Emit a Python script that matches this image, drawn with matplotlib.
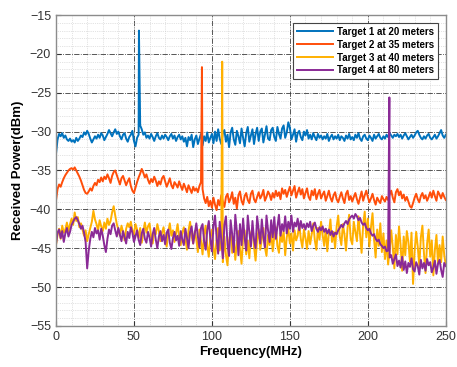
import numpy as np
import matplotlib
matplotlib.use("Agg")
import matplotlib.pyplot as plt
from matplotlib.ticker import MultipleLocator

# frequency grid (MHz), 1 MHz steps
freq = np.arange(0, 251, 1)

labels = ["Target 1 at 20 meters", "Target 2 at 35 meters",
          "Target 3 at 40 meters", "Target 4 at 80 meters"]
colors = ["#0072BD", "#FF4E0A", "#FFB000", "#8A2A96"]

# spike of each target (frequency MHz, power dBm)
peak_freq = [53.2, 93.6, 106.6, 213.8]
peak_power = [-17.0, -21.7, -21.0, -25.6]

t1 = [-32.9, -31.0, -30.3, -30.6, -30.2, -30.8, -30.5, -31.0, -31.2, -30.9,
      -31.3, -31.1, -31.4, -30.8, -31.2, -30.9, -30.5, -30.7, -30.1, -30.4,
      -29.9, -30.3, -30.9, -31.4, -31.0, -30.6, -30.9, -30.4, -30.8, -30.2,
      -30.5, -31.1, -30.7, -30.3, -29.8, -30.2, -30.6, -30.1, -29.7, -30.3,
      -30.0, -30.6, -31.0, -30.4, -30.2, -30.9, -31.3, -30.7, -30.4, -29.9,
      -31.2, -31.9, -30.8, -30.4, -29.2, -29.7, -30.4, -30.1, -30.8, -30.5,
      -30.9, -30.3, -30.7, -31.2, -30.6, -30.2, -30.8, -31.0, -30.5, -30.9,
      -30.4, -30.7, -31.1, -30.6, -30.3, -30.9, -30.5, -31.2, -30.7, -30.4,
      -31.0, -30.6, -31.3, -30.8, -31.9, -30.7, -31.1, -30.4, -32.0, -31.0,
      -30.5, -31.6, -30.9, -30.3, -31.8, -30.6, -31.2, -30.1, -31.4, -30.8,
      -30.3, -31.5, -30.0, -31.2, -29.7, -30.9, -31.6, -30.2, -29.8, -31.3,
      -30.4, -32.0, -30.1, -29.5, -31.0, -31.7, -29.9, -30.6, -31.5, -29.6,
      -30.8, -31.9, -30.2, -29.4, -31.3, -30.5, -29.7, -31.6, -30.3, -29.5,
      -31.2, -30.0, -29.6, -31.4, -30.4, -29.3, -30.9, -31.1, -29.8, -29.5,
      -30.7, -31.2, -29.4, -30.3, -30.9, -29.6, -29.2, -30.8, -30.1, -28.8,
      -29.5, -31.0, -30.4, -29.7, -31.3, -30.2, -29.9, -30.7, -31.1, -30.0,
      -30.5, -29.8, -30.9, -30.4, -31.0, -30.2, -30.7, -31.1, -30.3, -30.8,
      -30.5, -31.0, -30.6, -30.9, -30.3, -31.2, -30.7, -30.4, -31.0, -30.6,
      -30.9, -30.4, -31.1, -30.6, -30.8, -31.2, -30.5, -30.9, -30.3, -31.0,
      -30.7, -31.1, -30.4, -30.8, -30.2, -30.9, -31.2, -30.6, -30.4, -30.9,
      -31.1, -30.5, -30.8, -31.2, -30.4, -30.9, -30.6, -30.3, -30.8, -31.0,
      -30.6, -30.9, -30.4, -30.7, -30.2, -30.5, -30.8, -30.4, -30.6, -30.3,
      -30.7, -30.4, -30.9, -30.5, -30.2, -30.6, -31.0, -30.7, -30.4, -30.8,
      -30.5, -30.1, -29.9, -30.4, -30.8, -31.0, -30.6, -30.9, -30.5, -30.3,
      -30.8, -31.0, -30.7, -30.4, -30.9, -30.6, -30.2, -29.8, -30.5, -30.8,
      -30.4]

t2 = [-38.9, -37.4, -36.8, -37.1, -36.5, -36.0, -35.6, -35.3, -35.0, -34.8,
      -34.7, -34.9, -34.6, -35.0, -35.4, -35.8, -36.3, -36.9, -37.5, -37.9,
      -38.0, -37.7, -37.3, -37.6, -37.0, -36.6, -36.9, -36.2, -36.5, -35.9,
      -36.4, -35.8, -36.1, -35.5, -36.0, -36.6, -35.7, -35.2, -35.0, -35.6,
      -36.2, -36.8, -36.0, -35.7, -36.3, -36.9, -36.4, -36.0, -37.0, -37.6,
      -37.9, -37.2, -36.5, -35.9, -35.4, -34.8, -35.3, -35.9, -35.5, -36.2,
      -36.7, -36.1, -36.5, -35.8, -36.3, -37.0, -36.4, -36.8, -36.0, -35.7,
      -36.4, -37.1, -36.6, -36.0, -36.9, -37.3, -36.5, -36.8, -37.2, -36.4,
      -37.0, -37.5, -36.7, -37.2, -37.8, -36.9, -37.4, -37.9, -37.1, -37.6,
      -37.3, -37.8, -37.0, -36.5, -37.4, -38.6, -39.2, -38.4, -39.6, -38.9,
      -39.8, -38.5, -39.4, -40.1, -38.8, -39.5, -38.2, -39.0, -39.7, -38.4,
      -38.0, -39.1, -38.6, -37.8, -39.3, -38.5, -39.9, -38.2, -37.7, -38.9,
      -39.4, -38.3, -37.9, -38.8, -39.2, -38.0, -37.6, -38.7, -39.1, -38.4,
      -37.8, -38.6, -38.2, -37.5, -38.9, -38.4, -37.7, -38.1, -38.8, -37.9,
      -38.5, -37.6, -38.3, -37.8, -38.7, -37.3, -38.0, -37.5, -38.4, -37.7,
      -37.1, -38.2, -37.6, -37.0, -38.5, -37.8, -37.2, -38.1, -37.4, -38.6,
      -37.9, -37.3, -38.4, -38.8, -37.6, -38.2, -37.4, -38.7, -38.0, -37.5,
      -38.6, -38.1, -37.7, -38.9, -38.3, -37.6, -38.5, -39.0, -38.2, -37.8,
      -38.7, -39.1, -38.4, -37.8, -38.6, -39.2, -38.0, -37.6, -38.8, -38.3,
      -39.0, -38.4, -37.9, -38.7, -39.3, -38.5, -37.7, -38.9, -38.2, -37.6,
      -38.4, -39.1, -38.6, -38.0, -38.8, -39.4, -38.5, -38.9, -39.2, -38.3,
      -38.7, -39.0, -38.4, -38.8, -38.1, -37.6, -38.5, -39.1, -37.8, -37.4,
      -38.2, -37.7, -38.6, -38.1, -38.9, -38.4, -39.0, -39.6, -39.8, -39.2,
      -38.5, -38.0, -38.7, -39.1, -38.3, -37.9, -38.6, -38.2, -38.9, -38.4,
      -37.8, -38.5, -37.6, -38.3, -38.9, -37.7, -38.1, -38.6, -37.9, -38.4,
      -38.8]

t3 = [-44.6, -43.3, -42.5, -43.8, -42.1, -43.0, -42.6, -41.7, -42.8, -41.9,
      -41.2, -42.0, -40.4, -41.5, -41.0, -42.3, -41.8, -42.6, -43.4, -42.7,
      -44.1, -43.2, -42.4, -41.6, -40.2, -41.3, -41.9, -42.7, -41.4, -42.2,
      -42.8, -41.7, -42.5, -41.2, -42.0, -41.5, -40.4, -39.6, -40.8, -41.9,
      -42.6, -43.4, -42.1, -42.9, -44.0, -42.5, -41.8, -42.3, -41.6, -42.7,
      -43.2, -41.9, -42.6, -43.7, -42.4, -44.3, -42.9, -41.7, -43.0, -42.2,
      -41.8, -43.5, -44.4, -42.6, -43.2, -41.9, -42.8, -44.1, -43.0, -42.3,
      -43.9, -44.8, -42.9, -41.8, -43.4, -42.7, -44.2, -43.1, -41.9, -43.6,
      -44.6, -43.0, -42.3, -43.8, -45.2, -42.7, -41.6, -43.5, -44.4, -42.8,
      -43.9, -45.5, -42.6, -44.1, -45.8, -43.2, -42.1, -44.7, -46.1, -43.5,
      -42.6, -44.9, -46.4, -43.8, -42.4, -45.3, -44.0, -46.8, -43.5, -45.9,
      -47.2, -44.1, -42.9, -45.6, -43.7, -46.5, -44.3, -42.8, -45.1, -47.0,
      -43.6, -42.7, -45.8, -44.0, -46.3, -43.1, -42.5, -44.8, -46.6, -43.9,
      -42.6, -45.2, -43.8, -42.4, -44.9, -46.0, -43.3, -44.6, -42.9, -45.4,
      -43.5, -42.3, -44.7, -45.6, -43.0, -44.2, -42.8, -45.9, -43.6, -42.5,
      -44.4, -43.1, -45.3, -42.7, -44.0, -43.4, -41.9, -43.8, -44.9, -42.6,
      -43.7, -45.1, -42.8, -44.5, -43.2, -41.8, -44.0, -45.2, -42.4, -43.9,
      -41.6, -43.3, -44.7, -42.5, -45.4, -43.1, -41.3, -44.2, -42.9, -45.0,
      -42.2, -40.8, -43.5, -44.6, -41.9, -43.2, -45.3, -42.4, -40.7, -43.8,
      -44.5, -41.6, -42.9, -44.1, -40.9, -43.3, -45.6, -42.0, -40.3, -43.6,
      -41.2, -44.8, -42.3, -40.5, -43.9, -46.2, -42.6, -44.7, -41.8, -45.5,
      -43.1, -46.4, -44.0, -47.1, -45.2, -42.7, -44.9, -47.6, -43.3, -45.8,
      -42.2, -44.6, -47.9, -43.5, -45.9, -42.8, -44.2, -46.7, -43.0, -49.6,
      -45.4, -42.9, -44.8, -47.3, -43.6, -42.1, -45.7, -48.2, -44.4, -42.6,
      -46.1, -44.0, -48.5, -45.2, -43.3, -47.0, -44.6, -46.8, -43.5, -45.9,
      -47.2]

t4 = [-44.5, -43.0, -42.6, -43.7, -42.8, -44.2, -43.1, -42.4, -43.5, -42.9,
      -42.0, -41.6, -41.2, -41.0, -41.4, -41.9, -42.5, -42.1, -43.0, -44.2,
      -47.6, -45.3, -43.8, -42.9, -43.6, -42.4, -43.1, -42.7, -43.9, -42.5,
      -43.4, -44.6, -45.5, -43.8, -42.6, -43.2, -42.1, -41.8, -42.7, -43.5,
      -42.4, -43.3, -44.1, -42.8, -43.6, -44.4, -42.9, -43.7, -42.3, -43.0,
      -44.2, -43.5, -42.7, -43.9, -44.6, -43.1, -42.5, -43.8, -44.3, -42.9,
      -43.6, -44.8, -43.2, -42.4, -43.9, -45.0, -43.5, -42.8, -44.1, -43.3,
      -44.5, -43.0, -42.6, -44.3, -45.1, -43.7, -42.9, -44.0, -43.4, -44.7,
      -42.8, -43.9, -44.6, -42.5, -43.7, -45.0, -42.9, -42.2, -44.4, -43.1,
      -41.8, -43.5, -44.9, -42.4, -41.9, -44.1, -45.2, -42.7, -41.5, -43.8,
      -45.4, -42.2, -40.8, -43.6, -45.7, -41.6, -43.9, -46.3, -42.0, -40.9,
      -44.5, -46.0, -41.4, -43.2, -45.5, -40.7, -42.8, -45.9, -41.9, -44.6,
      -41.2, -43.7, -45.3, -40.8, -42.9, -44.8, -41.5, -43.9, -45.0, -40.9,
      -42.6, -44.4, -41.3, -43.5, -44.9, -40.8, -42.7, -44.2, -41.4, -43.6,
      -41.0, -43.8, -42.3, -40.7, -43.4, -41.9, -42.8, -40.9, -43.1, -41.6,
      -42.5, -40.8, -42.9, -41.7, -42.2, -41.2, -42.7, -41.5, -42.4, -41.9,
      -42.6, -41.8, -42.3, -41.6, -42.8, -42.1, -41.7, -42.5, -42.9, -42.3,
      -42.7, -42.2, -42.9, -42.5, -43.1, -42.6, -43.3, -42.8, -43.5, -43.0,
      -43.2, -42.7, -42.4, -42.0, -42.3, -41.8, -41.5, -41.9, -41.3, -41.0,
      -40.8, -41.2, -40.6, -40.9, -41.4, -41.1, -41.7, -42.0, -41.8, -42.4,
      -42.7, -42.5, -43.1, -43.4, -43.2, -43.8, -44.1, -43.9, -44.5, -44.7,
      -45.0, -44.8, -45.4, -45.3, -46.2, -45.9, -47.0, -46.4, -45.8, -47.3,
      -46.6, -47.5, -46.1, -47.8, -46.7, -48.2, -46.9, -47.4, -46.3, -47.7,
      -48.0, -46.8, -47.3, -48.4, -46.5, -47.6, -46.9, -47.9, -46.4, -47.2,
      -46.8, -48.1, -47.5, -46.6, -48.3, -47.0, -46.5, -47.8, -48.7, -46.9,
      -47.3]

series = [t1, t2, t3, t4]

plt.rcParams['font.family'] = ['Liberation Sans', 'DejaVu Sans']

fig = plt.figure(figsize=(4.57, 3.67), dpi=100)
ax = fig.add_axes([0.1225, 0.112, 0.853, 0.847])

for vals, pf, pp, c, lab in zip(series, peak_freq, peak_power, colors, labels):
    i = np.searchsorted(freq, pf)
    f = np.insert(freq.astype(float), i, pf)
    v = np.insert(np.array(vals), i, pp)
    ax.plot(f, v, color=c, lw=1.4, label=lab)

ax.set_xlim(0, 250)
ax.set_ylim(-55, -15)
ax.xaxis.set_major_locator(MultipleLocator(50))
ax.xaxis.set_minor_locator(MultipleLocator(10))
ax.yaxis.set_major_locator(MultipleLocator(5))
ax.yaxis.set_minor_locator(MultipleLocator(1))
ax.grid(which='major', color='#3a3a3a', ls='-.', lw=0.6)
ax.grid(which='minor', color='#c8c8c8', ls=':', lw=0.5)
ax.tick_params(which='both', direction='in', labelsize=9, colors='#333333')
ax.tick_params(which='minor', length=0)
for sp in ax.spines.values():
    sp.set_color('#8c8c8c')
    sp.set_linewidth(1.0)

ax.set_xlabel('Frequency(MHz)', fontsize=9.5, fontweight='bold', labelpad=2)
ax.set_ylabel('Received Power(dBm)', fontsize=9.5, fontweight='bold', labelpad=4)

leg = ax.legend(loc='upper right', prop={'weight': 'bold', 'size': 7},
                handlelength=3.7, borderaxespad=0.8, labelspacing=0.3,
                fancybox=False, framealpha=1, handletextpad=0.4)
leg.get_frame().set_edgecolor('#444444')
leg.get_frame().set_linewidth(0.8)

fig.savefig('out.png', dpi=100)
